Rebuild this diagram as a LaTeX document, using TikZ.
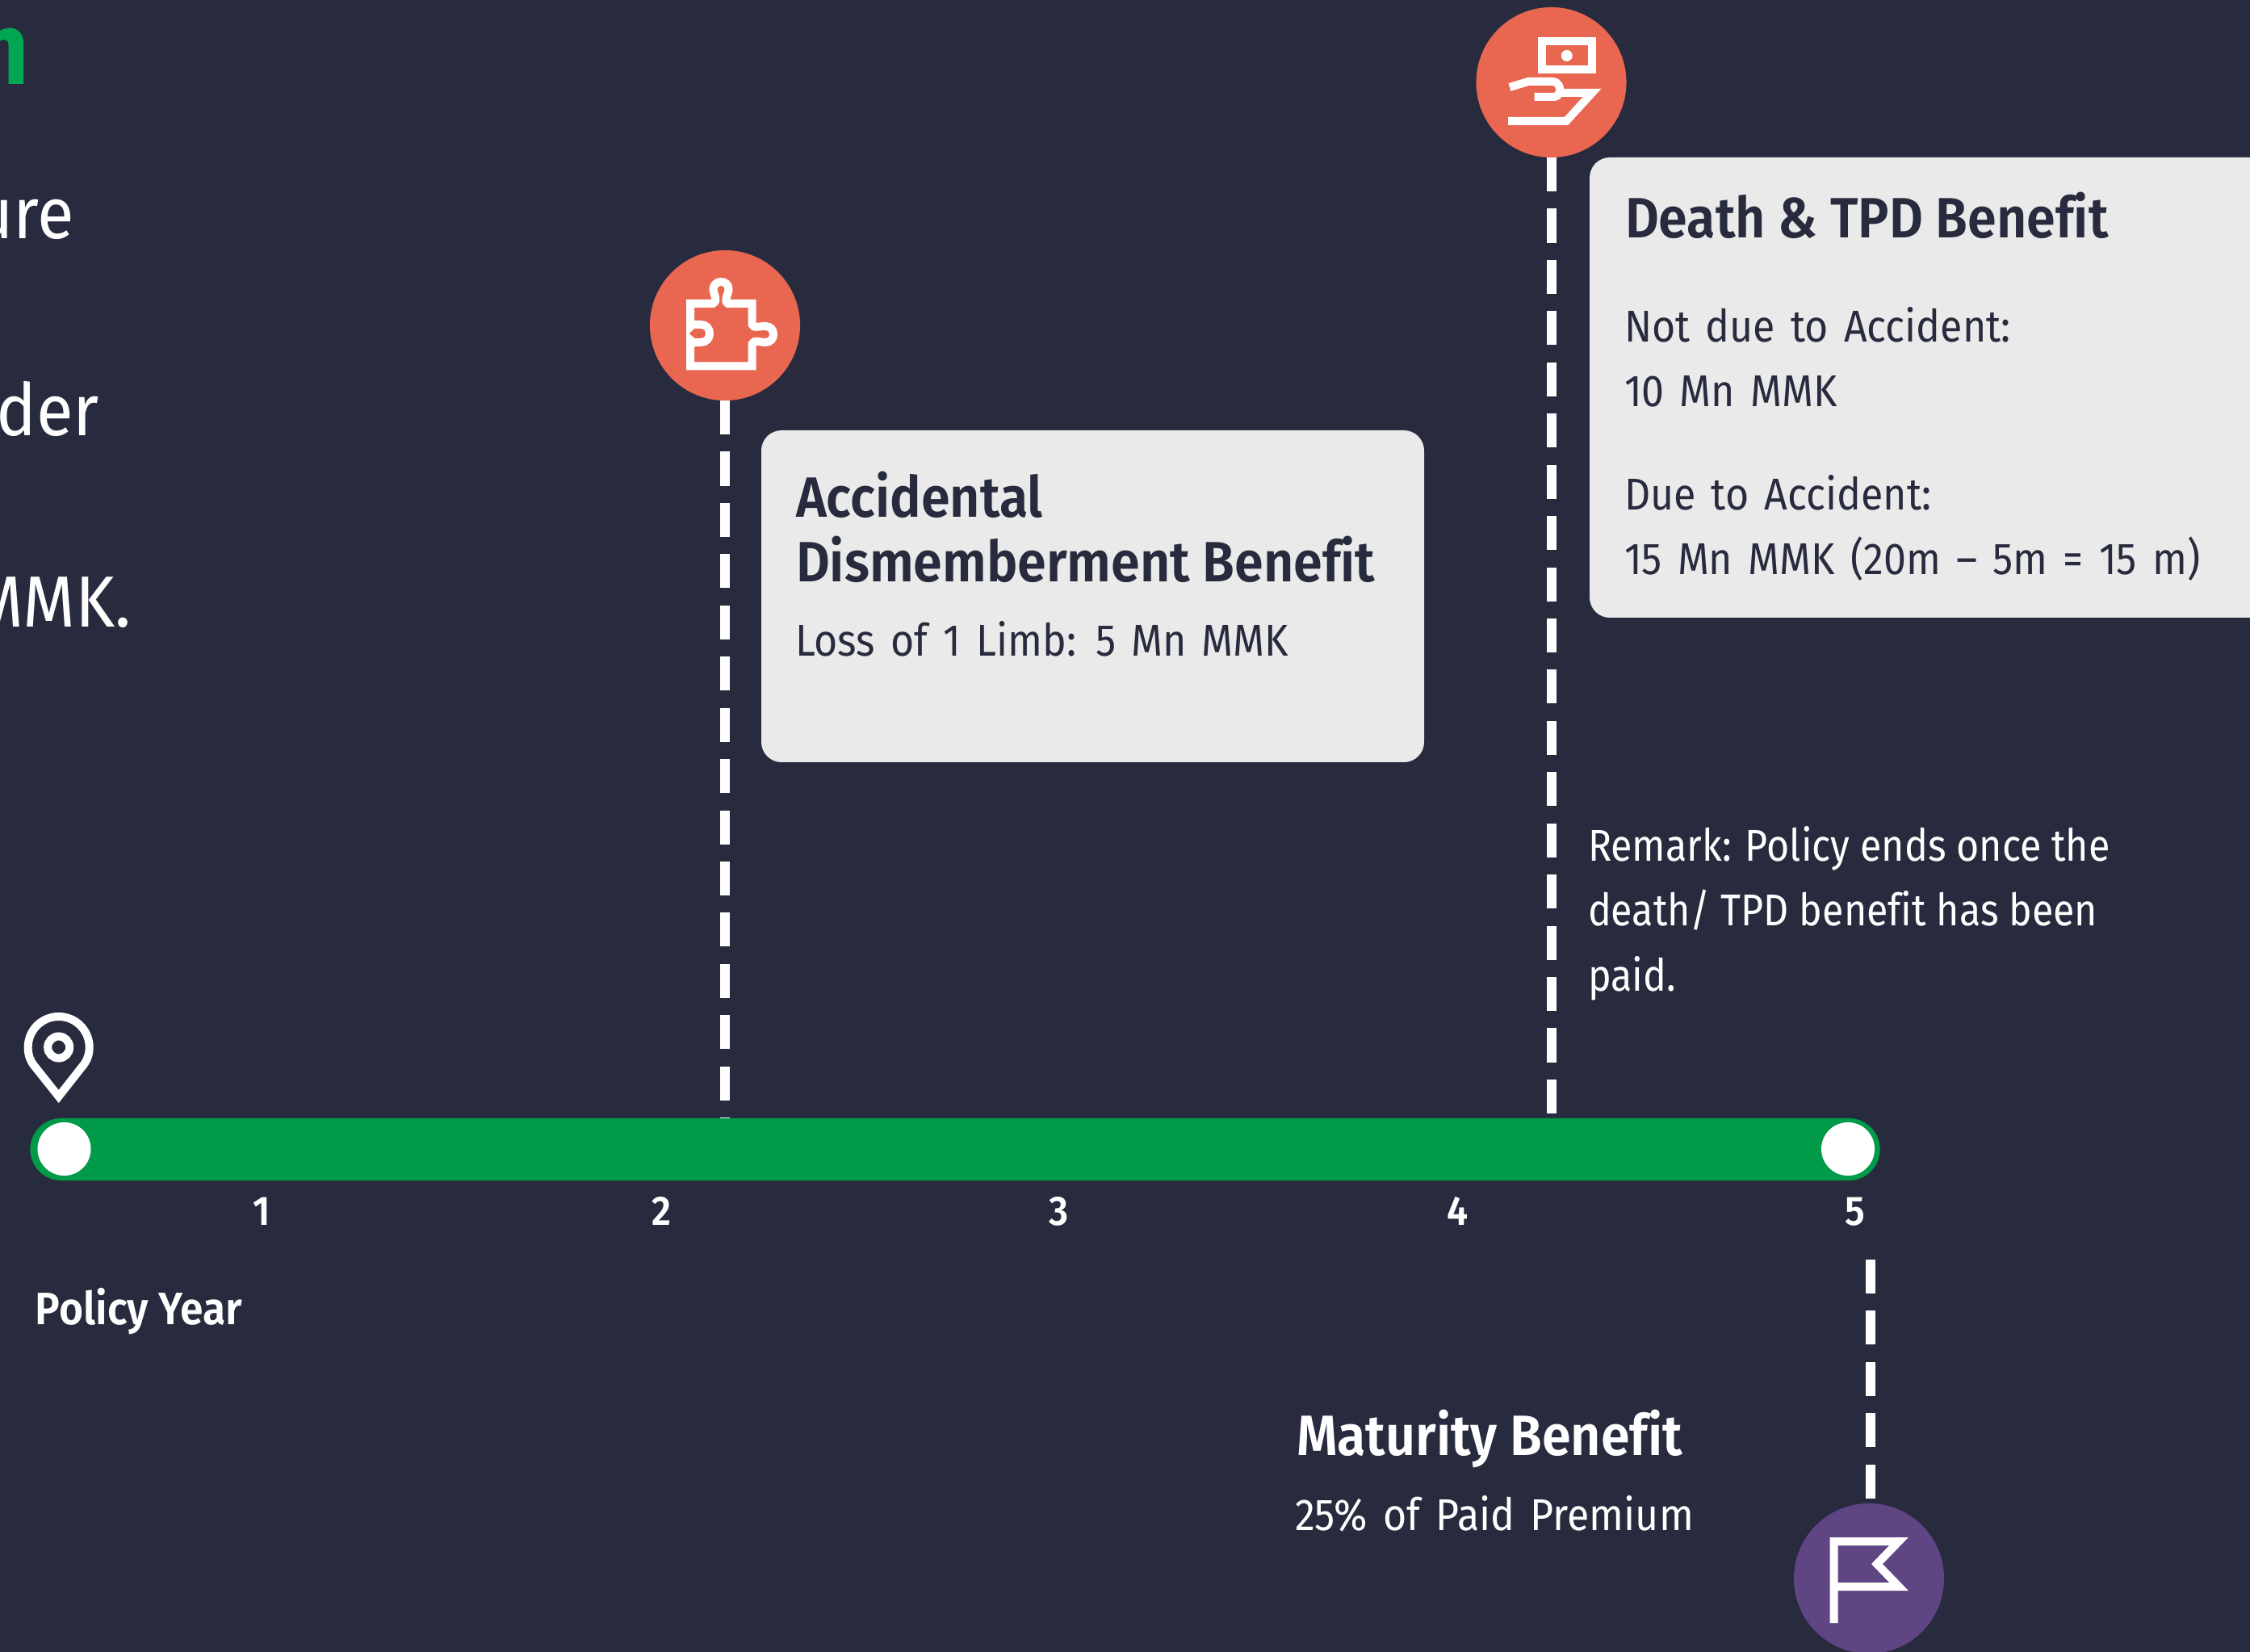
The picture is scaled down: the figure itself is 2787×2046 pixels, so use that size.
\documentclass[tikz,border=0pt]{standalone}
\usepackage{fontspec}
\setmainfont{Fira Sans}[FakeStretch=0.907, WordSpace=1.45, Ligatures=NoCommon, BoldFont={Fira Sans SemiBold}, BoldFeatures={FakeStretch=0.918, WordSpace=1}]
\newfontfamily\remarkfont{Fira Sans}[FakeStretch=0.876, Ligatures=NoCommon]
\newfontfamily\widefont{Fira Sans}[FakeStretch=0.93]
\definecolor{bgnavy}{HTML}{282B3E}
\definecolor{barGreen}{HTML}{009A48}
\definecolor{topGreen}{HTML}{00A651}
\definecolor{iconRed}{HTML}{E96651}
\definecolor{flagPurple}{HTML}{5F4584}
\definecolor{boxGrey}{HTML}{EAEAEA}
\begin{document}
\begin{tikzpicture}[x=0.01cm, y=-0.01cm,
    badge/.style={circle, draw=none, inner sep=0pt, outer sep=0pt, minimum size=1.86cm},
    dot/.style={circle, fill=white, inner sep=0pt, outer sep=0pt, minimum size=0.66cm},
    infobox/.style={fill=boxGrey, rounded corners=0.25cm},
    dashline/.style={white, line width=0.12cm, dash pattern=on 0.42cm off 0.214cm},
    iconline/.style={white, line width=0.1cm},
    word/.style={anchor=base west, inner sep=0pt, outer sep=0pt, align=left},
    cutword/.style={anchor=base east, inner sep=0pt, outer sep=0pt, text=white, font=\widefont\fontsize{25.5}{28}\selectfont},
    head/.style={font=\bfseries\fontsize{20}{22.76}\selectfont},
    body/.style={font=\fontsize{15.7}{22.76}\selectfont},
    year/.style={anchor=base, inner sep=0pt, text=white, font=\bfseries\fontsize{14.5}{16}\selectfont}]
    % Background
    \fill[bgnavy] (0,0) rectangle (2787,2046);
    \useasboundingbox (0,0) rectangle (2787,2046);

    % Cut off text on the left
    \node[anchor=base east, inner sep=0pt, text=topGreen, font=\widefont\bfseries\fontsize{36}{40}\selectfont] (headline) at (37,105) {n};
    \node[cutword] (line1) at (92,296) {ure};
    \node[cutword] (line2) at (123,540) {nder};
    \node[cutword] (line3) at (163,777) {MMK.};

    % Boxes
    \fill[infobox] (943,533) rectangle (1764,944);
    \fill[infobox] (1969,195) rectangle (2830,765);

    % Nodes
    \node[badge, fill=iconRed] (puzzle) at (898,403) {};
    \node[badge, fill=iconRed] (hand) at (1921.5,102) {};
    \node[badge, fill=flagPurple] (flag) at (2315,1955) {};
    \coordinate (flagtop) at (2317,1560);
    \node[fill=barGreen, inner sep=0pt, outer sep=0pt, minimum width=22.9cm, minimum height=0.77cm, rounded corners=0.385cm] (bar) at (1183,1423.5) {};
    \node[dot] (start) at (79.5,1423) {};
    \node[dot] (end) at (2289,1423) {};

    % Edges
    \draw[dashline] (puzzle.south) -- (puzzle |- bar.north);
    \draw[dashline] (hand.south) -- (hand |- bar.north);
    \draw[dashline] (flagtop) -- (flagtop |- flag.north);

    % Puzzle icon
    \draw[iconline, miter limit=4] (855,453.5) -- (931.7,453.5) -- (931.7,426)
        .. controls (935,420) and (940,424) .. (948,424)
        .. controls (954,424) and (958,420) .. (958,414)
        .. controls (958,409) and (955,404) .. (948,404)
        .. controls (938,404) and (934,407) .. (931.7,402) -- (931.7,376) -- (901.7,376)
        .. controls (896,372) and (902,366) .. (902.5,358)
        .. controls (902.5,352) and (898,349) .. (893,349)
        .. controls (888,349) and (883.5,353) .. (883.5,358)
        .. controls (884,366) and (890,372) .. (883,376) -- (855,376) -- (855,405)
        .. controls (858,401) and (862,402) .. (868,402)
        .. controls (875,402) and (879,407) .. (879,413)
        .. controls (879,419) and (875,424) .. (868,424)
        .. controls (862,424) and (858,425) .. (855,421) -- cycle;

    % Hand icon
    \draw[iconline] (1909.7,51.3) rectangle (1971.7,86);
    \fill[white] (1940.7,69) circle[radius=0.07cm];
    \draw[iconline] (1870,108) -- (1893,101) -- (1923,101)
        .. controls (1931,101) and (1933,110) .. (1932,113)
        .. controls (1931,118) and (1928,120) .. (1924,120) -- (1900.7,120);
    \draw[iconline] (1933,115) -- (1972,115) -- (1940,150) -- (1868,150);

    % Flag icon
    \draw[iconline, miter limit=6] (2271.7,2010) -- (2271.7,1909) -- (2352,1909) -- (2325,1937) -- (2352,1965) -- (2271.7,1965);

    % Pin icon
    \draw[iconline] (72.7,1358) -- (44,1322)
        .. controls (37,1314) and (34.7,1306) .. (34.7,1297)
        .. controls (34.7,1276) and (51.7,1259) .. (72.7,1259)
        .. controls (93.7,1259) and (110.7,1276) .. (110.7,1297)
        .. controls (110.7,1306) and (108,1314) .. (101,1322) -- cycle;
    \draw[iconline] (72.7,1297) circle[radius=0.135cm];

    % Labels
    \node[word, head, text=bgnavy] (deathtitle) at (2013,295) {Death \& TPD Benefit};
    \node[word, body, text=bgnavy] (notdue) at (2012,503.5) {Not due to Accident:\\10 Mn MMK};
    \node[word, body, text=bgnavy] (due) at (2012,712) {Due to Accident:\\15 Mn MMK (20m -- 5m = 15 m)};
    \node[word, head, text=bgnavy] (limbtitle) at (986,721) {Accidental\\Dismemberment Benefit};
    \node[word, body, text=bgnavy] (limb) at (985,813) {Loss of 1 Limb: 5 Mn MMK};
    \node[word, text=white, font=\remarkfont\fontsize{15.7}{22.76}\selectfont] (remark) at (1967,1227) {Remark: Policy ends once the\\death/ TPD benefit has been\\paid.};
    \node[word, head, text=white] (maturitytitle) at (1606,1802) {Maturity Benefit};
    \node[word, body, text=white] (maturity) at (1604,1895.5) {25\% of Paid Premium};
    \node[word, text=white, font=\bfseries\fontsize{16}{18}\selectfont] (policyyear) at (44,1640) {Policy Year};

    % Years
    \foreach \yr/\xpos in {1/324, 2/819, 3/1312, 4/1806, 5/2298} {
        \node[year] (year\yr) at (\xpos,1517) {\yr};
    }
\end{tikzpicture}
\end{document}
